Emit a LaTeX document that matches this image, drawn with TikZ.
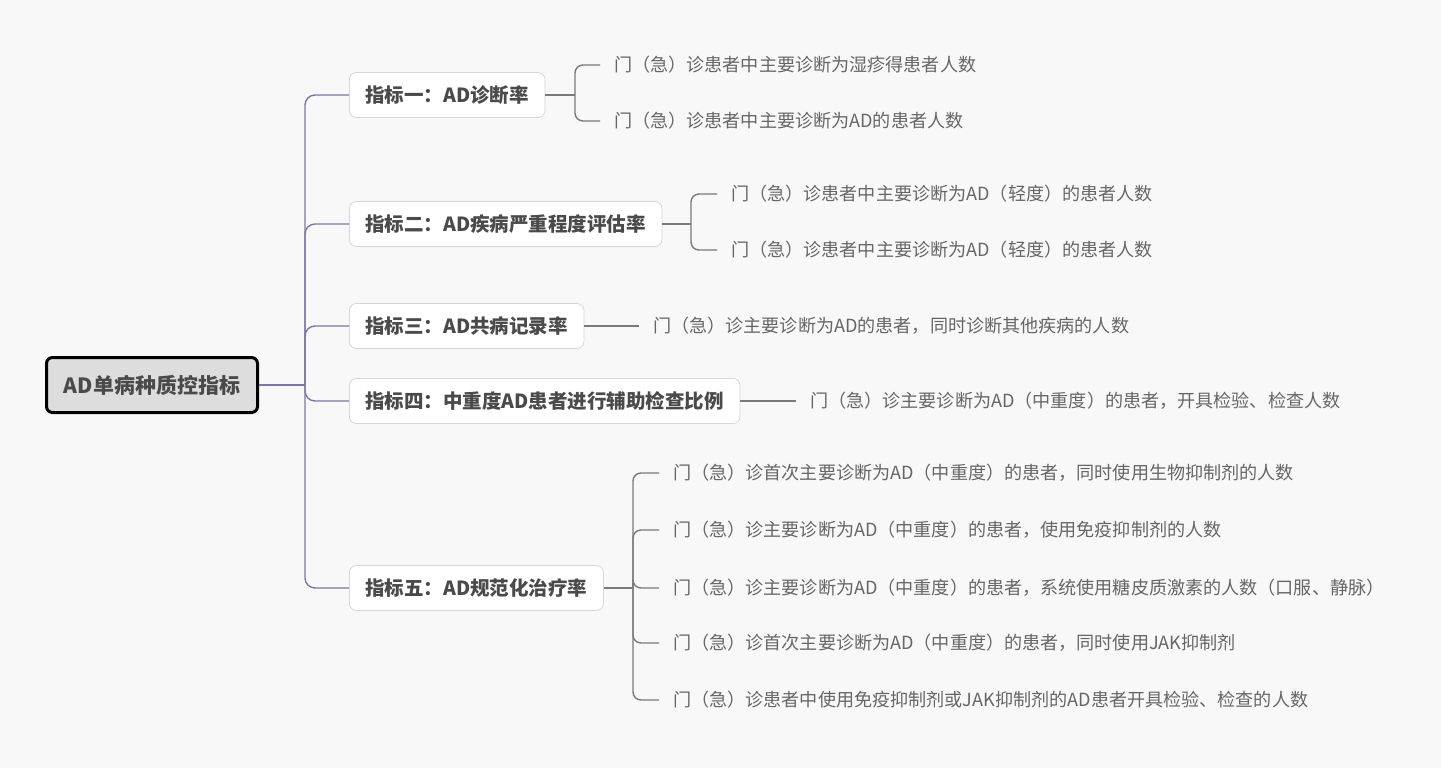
\documentclass[tikz,border=0pt]{standalone}
\usepackage{fontspec}
\setmainfont{Noto Sans CJK SC}
\usetikzlibrary{positioning,calc}
\definecolor{bgcol}{HTML}{F8F8F8}
\definecolor{trunkcol}{HTML}{7C78A6}
\definecolor{twigcol}{HTML}{7A7A7A}
\definecolor{topicline}{HTML}{D6D6D6}
\definecolor{topictext}{HTML}{4A4A4A}
\definecolor{leaftext}{HTML}{666666}
\definecolor{rootfill}{HTML}{DDDDDD}

\begin{document}
\begin{tikzpicture}[x=1pt, y=-1pt,
    root/.style={draw=black, fill=rootfill, line width=3, rounded corners=6,
        text=topictext, font=\fontsize{21}{24}\selectfont\bfseries,
        minimum width=211, minimum height=55},
    topic/.style={draw=topicline, fill=white, line width=0.8, rounded corners=7,
        text=topictext, font=\fontsize{19.5}{22}\selectfont\bfseries,
        inner xsep=16, minimum height=45, anchor=west},
    leaf/.style={text=leaftext, font=\fontsize{18.1}{22}\selectfont,
        inner xsep=14, inner ysep=0, anchor=west},
    trunk/.style={draw=trunkcol, line width=1.4, rounded corners=10},
    twig/.style={draw=twigcol, line width=1.4, rounded corners=8}
]
\fill[bgcol] (0,0) rectangle (1441,768);
\useasboundingbox (0,0) rectangle (1441,768);

\node[root] (root) at (152,385) {AD单病种质控指标};

\node[topic] (t1) at (349,95)  {指标一：AD诊断率};
\node[topic] (t2) at (349,224) {指标二：AD疾病严重程度评估率};
\node[topic] (t3) at (349,326) {指标三：AD共病记录率};
\node[topic] (t4) at (349,401) {指标四：中重度AD患者进行辅助检查比例};
\node[topic] (t5) at (349,588) {指标五：AD规范化治疗率};

\coordinate (hub) at (305,385);
\draw[trunk] (root.east) -- (hub);
\foreach \t in {t1,t2,t3,t4,t5}
    \draw[trunk] (hub) |- (\t.west);

\node[leaf] (l11) at (600,65)  {门（急）诊患者中主要诊断为湿疹得患者人数};
\node[leaf] (l12) at (600,121) {门（急）诊患者中主要诊断为AD的患者人数};
\coordinate (k1) at (575,95);
\draw[twig] (t1.east) -- (k1);
\draw[twig] (k1) |- (l11.west);
\draw[twig] (k1) |- (l12.west);

\node[leaf] (l21) at (717,194) {门（急）诊患者中主要诊断为AD（轻度）的患者人数};
\node[leaf] (l22) at (717,250) {门（急）诊患者中主要诊断为AD（轻度）的患者人数};
\coordinate (k2) at (691,224);
\draw[twig] (t2.east) -- (k2);
\draw[twig] (k2) |- (l21.west);
\draw[twig] (k2) |- (l22.west);

\node[leaf] (l31) at (639,326) {门（急）诊主要诊断为AD的患者，同时诊断其他疾病的人数};
\draw[twig] (t3.east) -- (l31.west);

\node[leaf] (l41) at (796,401) {门（急）诊主要诊断为AD（中重度）的患者，开具检验、检查人数};
\draw[twig] (t4.east) -- (l41.west);

\node[leaf] (l51) at (659,473) {门（急）诊首次主要诊断为AD（中重度）的患者，同时使用生物抑制剂的人数};
\node[leaf] (l52) at (659,530) {门（急）诊主要诊断为AD（中重度）的患者，使用免疫抑制剂的人数};
\node[leaf] (l53) at (659,588) {门（急）诊主要诊断为AD（中重度）的患者，系统使用糖皮质激素的人数（口服、静脉）};
\node[leaf] (l54) at (659,643) {门（急）诊首次主要诊断为AD（中重度）的患者，同时使用JAK抑制剂};
\node[leaf] (l55) at (659,700) {门（急）诊患者中使用免疫抑制剂或JAK抑制剂的AD患者开具检验、检查的人数};
\coordinate (k5) at (633,588);
\draw[twig] (t5.east) -- (k5);
\foreach \l in {l51,l52,l53,l54,l55}
    \draw[twig] (k5) |- (\l.west);
\end{tikzpicture}
\end{document}
